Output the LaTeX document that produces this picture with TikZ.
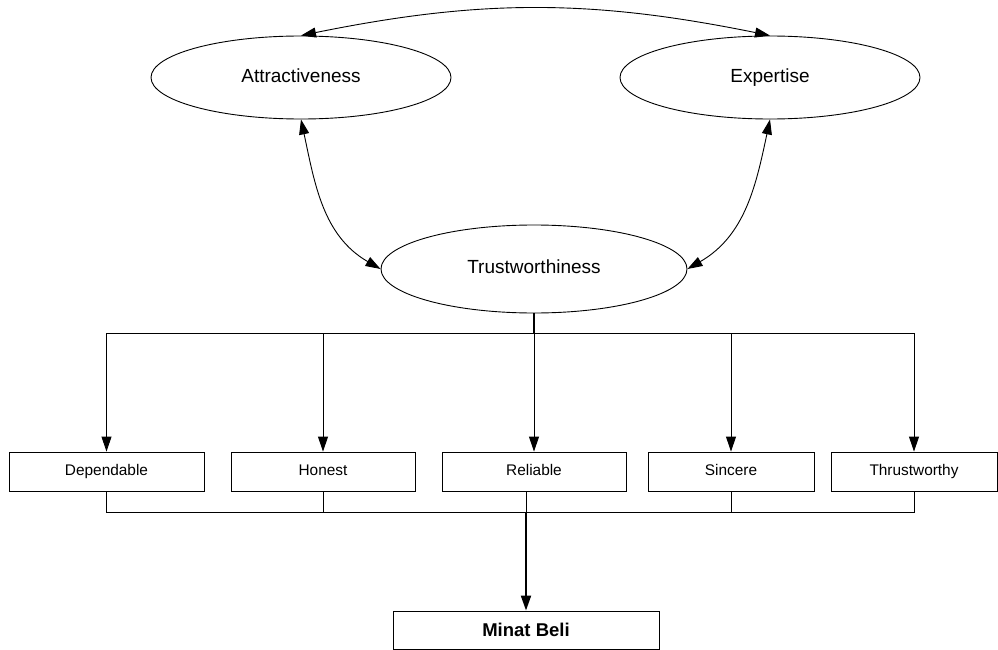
\documentclass[tikz,border=0pt]{standalone}
\usepackage{fontspec}
\setmainfont{Liberation Sans}
\usetikzlibrary{shapes.geometric,arrows.meta}
\begin{document}
\begin{tikzpicture}[x=1pt,y=-1pt,
  every node/.style={inner sep=0pt},
  oval/.style={ellipse,draw,line width=0.9pt,minimum width=300pt,minimum height=83pt,
    font=\fontsize{19}{22}\selectfont,text height=13.6pt,text depth=4pt},
  item/.style={rectangle,draw,line width=0.9pt,minimum height=39pt,
    font=\fontsize{15.4}{18}\selectfont,text height=11pt,text depth=3.2pt},
  conn/.style={line width=0.9pt},
  tip/.style={-{Triangle[length=15pt,width=10pt]}},
  both/.style={{Triangle[length=15pt,width=10pt]}-{Triangle[length=15pt,width=10pt]}},
  heavy/.style={line width=2pt}
]
\useasboundingbox[fill=white] (0,0) rectangle (998,650);
\node[oval] (attr) at (301,77.5) {Attractiveness};
\node[oval] (exp) at (770,77.5) {Expertise};
\node[oval,minimum width=306pt,minimum height=88pt] (trust) at (534,269) {Trustworthiness};

\node[item,minimum width=195pt] (dep) at (106.5,471.5) {Dependable};
\node[item,minimum width=184pt] (hon) at (323,471.5) {Honest};
\node[item,minimum width=184pt] (rel) at (534,471.5) {Reliable};
\node[item,minimum width=166pt] (sin) at (731,471.5) {Sincere};
\node[item,minimum width=166pt] (thr) at (914,471.5) {Thrustworthy};
\node[item,minimum width=266pt,minimum height=38pt,font=\fontsize{18.5}{21}\selectfont\bfseries,
  text height=13.3pt,text depth=0pt] (minat) at (526,630) {Minat Beli};

\coordinate (top) at (534,333);
\coordinate (bot) at (526,512);

\draw[conn,both] (attr.north) to[out=11.5,in=168.5] (exp.north);
\draw[conn,both] (attr.south) to[out=-78,in=150] (trust.west);
\draw[conn,both] (exp.south) to[out=-102,in=30] (trust.east);

\draw[heavy] (trust.south) -- (top);
\foreach \n in {dep,hon,rel,sin,thr} \draw[conn,tip] (top) -| (\n.north);

\foreach \n in {dep,hon,sin,thr} \draw[conn] (\n.south) |- (bot);
\draw[conn] (rel.south -| bot) -- (bot);
\draw[heavy,tip] (bot) -- (minat.north);
\end{tikzpicture}
\end{document}
